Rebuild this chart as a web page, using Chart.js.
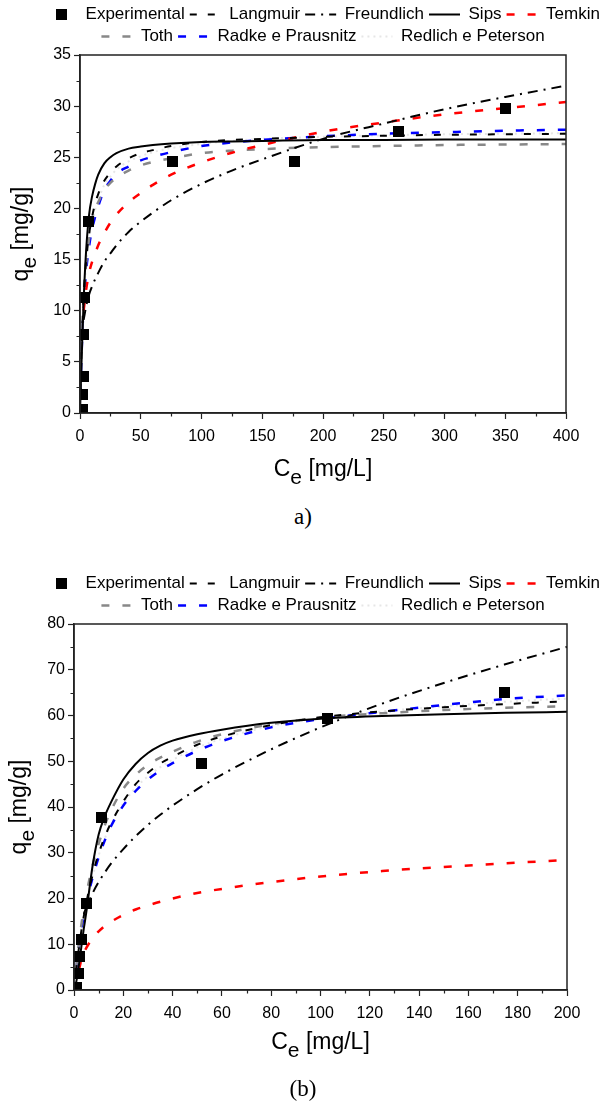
<!DOCTYPE html>
<html>
<head>
<meta charset="utf-8">
<script src="https://cdn.jsdelivr.net/npm/chart.js@4.4.1/dist/chart.umd.min.js"></script>
<style>
  body { margin: 0; background: #fff; width: 606px; height: 1110px; position: relative; overflow: hidden; }
  .box { position: absolute; left: 0; width: 606px; }
  .cap { position: absolute; left: 0; width: 606px; text-align: center;
         font-family: "Liberation Serif", "Times New Roman", serif; font-size: 23px; color: #000; }
</style>
</head>
<body>
<div class="box" style="top:0;height:503px"><canvas id="chartA"></canvas></div>
<div class="cap" style="top:504px">a)</div>
<div class="box" style="top:567px;height:513px"><canvas id="chartB"></canvas></div>
<div class="cap" style="top:1076px">(b)</div>

<script>
// ---- panel a) ----
const ceA = [0, 1, 2, 3, 5, 7.5, 10, 12.5, 15, 20, 25, 30, 40, 50, 60, 75, 100, 125, 150, 200, 250, 300, 350, 400];
const langmuirA = [0, 5.2, 8.7, 11.3, 14.8, 17.5, 19.2, 20.5, 21.4, 22.7, 23.5, 24.1, 24.9, 25.4, 25.7, 26.1, 26.5, 26.7, 26.8, 27.0, 27.1, 27.2, 27.25, 27.3];
const freundlichA = [null, null, null, 9.1, 10.4, 11.6, 12.4, 13.1, 13.7, 14.8, 15.6, 16.4, 17.7, 18.7, 19.6, 20.8, 22.4, 23.7, 24.8, 26.8, 28.3, 29.7, 30.9, 32.0];
const sipsA = [0, 4.0, 7.6, 11.0, 15.8, 19.4, 21.2, 22.4, 23.3, 24.4, 25.0, 25.4, 25.85, 26.05, 26.2, 26.35, 26.5, 26.55, 26.6, 26.7, 26.7, 26.75, 26.75, 26.75];
const temkinA = [null, null, null, 10.0, 12.0, 13.7, 14.8, 15.6, 16.4, 17.6, 18.6, 19.4, 20.6, 21.5, 22.3, 23.3, 24.5, 25.45, 26.2, 27.5, 28.4, 29.2, 29.8, 30.4];
const tothA = [0, 5.0, 8.6, 11.2, 14.6, 17.0, 18.7, 19.8, 20.6, 21.8, 22.5, 23.0, 23.7, 24.2, 24.55, 24.9, 25.4, 25.65, 25.8, 26.0, 26.1, 26.2, 26.25, 26.3];
const radkeA = [0, 4.6, 8.0, 10.5, 13.8, 16.3, 18.0, 19.2, 20.2, 21.8, 22.7, 23.4, 24.1, 24.7, 25.05, 25.5, 26.1, 26.45, 26.7, 27.05, 27.3, 27.45, 27.6, 27.7];
const redlichA = [0, 4.9, 8.4, 11.0, 14.4, 17.0, 18.7, 19.9, 20.8, 22.3, 23.1, 23.8, 24.6, 25.1, 25.5, 25.9, 26.3, 26.6, 26.8, 27.0, 27.15, 27.25, 27.3, 27.35];
const expCeA = [2.2, 2.2, 2.5, 2.5, 3.5, 6.7, 76.5, 176.5, 262, 350];
const expQeA = [0.3, 1.8, 3.6, 7.7, 11.3, 18.7, 24.6, 24.6, 27.5, 29.8];

// ---- panel (b) ----
const ceB = [0, 1, 2, 3, 4, 5, 7.5, 10, 12.5, 15, 20, 25, 30, 35, 40, 50, 60, 80, 100, 125, 150, 175, 200];
const langmuirB = [0, 5.0, 9.2, 13.0, 16.2, 19.1, 25.1, 29.8, 33.5, 36.5, 41.2, 45.0, 47.5, 49.5, 51.0, 53.6, 55.4, 57.9, 59.6, 60.9, 61.8, 62.5, 63.1];
const freundlichB = [null, null, null, null, 16.6, 18.1, 21.1, 23.6, 25.7, 27.6, 30.8, 33.6, 36.1, 38.3, 40.3, 43.9, 47.1, 52.6, 57.4, 62.6, 67.1, 71.2, 75.0];
const sipsB = [0, 2.0, 5.5, 9.5, 13.5, 17.0, 27.0, 34.0, 38.0, 41.0, 46.0, 49.4, 51.8, 53.4, 54.5, 55.9, 56.9, 58.4, 59.3, 59.9, 60.3, 60.6, 60.8];
const temkinB = [null, null, 4.4, 6.6, 8.1, 9.2, 11.3, 12.8, 14.0, 14.9, 16.4, 17.6, 18.5, 19.3, 20.0, 21.2, 22.1, 23.6, 24.8, 26.0, 26.9, 27.7, 28.4];
const tothB = [0, 5.5, 10.2, 14.3, 17.8, 20.8, 27.2, 32.0, 36.0, 39.2, 44.0, 47.0, 49.2, 50.8, 52.1, 54.3, 55.9, 58.1, 59.5, 60.5, 61.2, 61.7, 62.0];
const radkeB = [0, 5.0, 9.5, 13.2, 16.3, 19.0, 24.5, 29.0, 32.7, 35.8, 40.3, 43.5, 46.0, 48.0, 49.6, 52.3, 54.4, 57.4, 59.2, 60.8, 62.3, 63.6, 64.4];
const redlichB = [0, 5.0, 9.3, 13.1, 16.2, 19.0, 24.8, 29.4, 33.1, 36.2, 40.8, 44.2, 46.7, 48.7, 50.3, 53.0, 54.9, 57.7, 59.4, 60.9, 62.0, 63.0, 63.7];
const expCeB = [1.1, 1.8, 2.4, 3.1, 5.1, 11.2, 51.8, 102.9, 174.6];
const expQeB = [0.5, 3.5, 7.4, 11.1, 18.8, 37.6, 49.6, 59.4, 65.1];

const FONT = '"Liberation Sans", Arial, sans-serif';
Chart.defaults.font.family = FONT;
Chart.defaults.color = '#000';

// filled black square marker
const square = document.createElement('canvas');
square.width = 11; square.height = 11;
const sctx = square.getContext('2d');
sctx.fillStyle = '#000';
sctx.fillRect(0, 0, 11, 11);

function pts(xs, ys) {
  return xs.map((x, i) => ({ x: x, y: ys[i] })).filter(p => p.y !== null);
}

function curve(label, xs, ys, color, dash, width) {
  return {
    label: label,
    data: pts(xs, ys),
    borderColor: color,
    backgroundColor: color,
    borderWidth: width,
    borderDash: dash,
    pointRadius: 0,
    pointHoverRadius: 0,
    pointStyle: 'line',
    cubicInterpolationMode: 'monotone',
    fill: false
  };
}

// legend items take dash / width from the dataset line, not the point
function legendLabels(chart) {
  const items = Chart.defaults.plugins.legend.labels.generateLabels(chart);
  items.forEach(it => {
    const ds = chart.data.datasets[it.datasetIndex];
    if (ds.borderDash) it.lineDash = ds.borderDash;
    if (ds.borderWidth) it.lineWidth = ds.borderWidth;
    it.strokeStyle = ds.borderColor;
  });
  return items;
}

function drawSub(ctx, main, sub, rest, cx, cy) {
  const big = '23px ' + FONT, small = '21px ' + FONT;
  ctx.font = big; const w1 = ctx.measureText(main).width; const w3 = ctx.measureText(rest).width;
  ctx.font = small; const w2 = ctx.measureText(sub).width;
  let x = cx - (w1 + w2 + w3) / 2;
  ctx.textBaseline = 'middle'; ctx.textAlign = 'left';
  ctx.font = big; ctx.fillText(main, x, cy); x += w1;
  ctx.font = small; ctx.fillText(sub, x, cy + 8); x += w2;
  ctx.font = big; ctx.fillText(rest, x, cy);
}

// frame, minor ticks and axis titles
const framePlugin = {
  id: 'frame',
  afterDraw(chart, args, opts) {
    const { ctx, chartArea: a, scales } = chart;
    const x = scales.x, y = scales.y;
    ctx.save();
    ctx.strokeStyle = '#222';
    ctx.lineWidth = 1.5;
    ctx.strokeRect(a.left, a.top, a.right - a.left, a.bottom - a.top);
    ctx.lineWidth = 1.2;
    ctx.beginPath();
    for (let v = opts.xStep / 2; v < x.max; v += opts.xStep) {
      const px = Math.round(x.getPixelForValue(v)) + 0.5;
      ctx.moveTo(px, a.bottom); ctx.lineTo(px, a.bottom + 3.5);
    }
    for (let v = opts.yStep / 2; v < y.max; v += opts.yStep) {
      const py = Math.round(y.getPixelForValue(v)) + 0.5;
      ctx.moveTo(a.left, py); ctx.lineTo(a.left - 3.5, py);
    }
    ctx.stroke();
    ctx.fillStyle = '#000';
    drawSub(ctx, 'C', 'e', ' [mg/L]', (a.left + a.right) / 2, a.bottom + opts.xTitleGap);
    ctx.translate(opts.yTitleX, (a.top + a.bottom) / 2);
    ctx.rotate(-Math.PI / 2);
    drawSub(ctx, 'q', 'e', ' [mg/g]', 0, 0);
    ctx.restore();
  }
};

function makeChart(id, ce, series, expCe, expQe, cfg) {
  const datasets = [
    {
      label: 'Experimental',
      data: pts(expCe, expQe),
      showLine: false,
      pointStyle: square,
      borderColor: '#000',
      backgroundColor: '#000'
    },
    curve('Langmuir', ce, series[0], '#000', [7, 11], 2),
    curve('Freundlich', ce, series[1], '#000', [10, 6, 2, 6], 2),
    curve('Sips', ce, series[2], '#000', [], 2),
    curve('Temkin', ce, series[3], '#ff0000', [8, 13], 2.5),
    curve('Toth', ce, series[4], '#888888', [8, 13], 2.5),
    curve('Radke e Prausnitz', ce, series[5], '#0000ff', [8, 13], 2.5),
    curve('Redlich e Peterson', ce, series[6], '#e6e6e6', [2, 4], 2)
  ];
  return new Chart(document.getElementById(id), {
    type: 'line',
    data: { datasets: datasets },
    plugins: [framePlugin],
    options: {
      responsive: true,
      maintainAspectRatio: false,
      animation: false,
      devicePixelRatio: 1,
      layout: { padding: { top: cfg.padTop, left: 40, right: 0, bottom: cfg.padBottom } },
      plugins: {
        legend: {
          position: 'top',
          align: 'center',
          labels: {
            usePointStyle: true,
            pointStyleWidth: 31,
            boxHeight: 16,
            padding: 5,
            color: '#000',
            font: { size: 17, family: FONT },
            generateLabels: legendLabels
          }
        },
        tooltip: { enabled: false },
        frame: { xStep: cfg.xStep, yStep: cfg.yStep, xTitleGap: cfg.xTitleGap, yTitleX: cfg.yTitleX }
      },
      scales: {
        x: {
          type: 'linear', min: 0, max: cfg.xMax,
          ticks: { stepSize: cfg.xStep, autoSkip: false, maxRotation: 0, padding: 8, color: '#000', font: { size: 16 } },
          grid: { drawOnChartArea: false, drawTicks: true, tickLength: 6, tickColor: '#222', tickWidth: 1.2 },
          border: { display: true, color: '#222', width: 1.5 },
          afterFit(s) { s.height = 40; }
        },
        y: {
          type: 'linear', min: 0, max: cfg.yMax, position: 'left',
          ticks: { stepSize: cfg.yStep, padding: 3, color: '#000', font: { size: 16 } },
          grid: { drawOnChartArea: false, drawTicks: true, tickLength: 6, tickColor: '#222', tickWidth: 1.2 },
          border: { display: true, color: '#222', width: 1.5 },
          afterFit(s) { s.width = cfg.yWidth; }
        },
        y2: {
          type: 'linear', position: 'right', min: 0, max: cfg.yMax,
          ticks: { display: false },
          grid: { display: false, drawTicks: false },
          border: { display: false },
          afterFit(s) { s.width = cfg.rightWidth; }
        }
      }
    }
  });
}

makeChart('chartA', ceA,
  [langmuirA, freundlichA, sipsA, temkinA, tothA, radkeA, redlichA],
  expCeA, expQeA,
  { xMax: 400, xStep: 50, yMax: 35, yStep: 5, yWidth: 40, rightWidth: 40, padTop: 1, padBottom: 50, xTitleGap: 57, yTitleX: 22 });

makeChart('chartB', ceB,
  [langmuirB, freundlichB, sipsB, temkinB, tothB, radkeB, redlichB],
  expCeB, expQeB,
  { xMax: 200, xStep: 20, yMax: 80, yStep: 10, yWidth: 34, rightWidth: 39, padTop: 3, padBottom: 50, xTitleGap: 53, yTitleX: 20 });
</script>
</body>
</html>
